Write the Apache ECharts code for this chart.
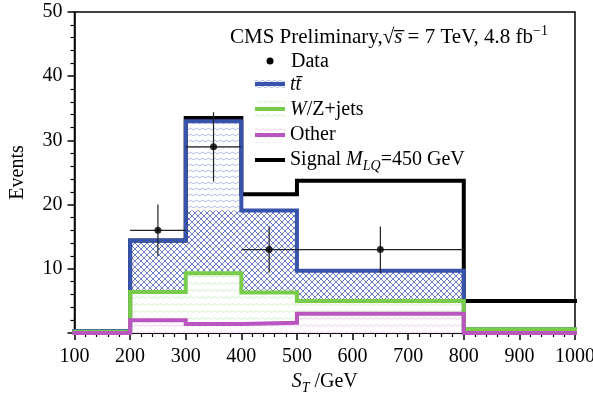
<!DOCTYPE html>
<html>
<head>
<meta charset="utf-8">
<script src="https://cdn.jsdelivr.net/npm/echarts@6/dist/echarts.min.js"></script>
<style>
html, body { margin: 0; padding: 0; background: #fff; }
#chart { width: 593px; height: 395px; }
</style>
</head>
<body>
<div id="chart"></div>
<script>
// Histogram bin edges in S_T (GeV)
const binEdges = [100, 200, 300, 400, 500, 800, 1000];
const xTicks = [100, 200, 300, 400, 500, 600, 700, 800, 900, 1000];
const yTicks = [10, 20, 30, 40, 50];

// Expected background yields per bin (stacked: Other, then W/Z+jets, then ttbar)
const otherYield  = [0.0, 2.0, 1.4, 1.6, 3.0, 0.0];
const wzJetsYield = [0.2, 4.4, 7.9, 4.7, 2.0, 0.6];
const ttbarYield  = [0.1, 8.0, 23.7, 12.8, 4.7, 0.0];

// Upper edge of the cross-hatched band per bin
const hatchBandTop = [0.3, 14.4, 19.1, 19.1, 9.7, 0.6];

// Signal (M_LQ = 450 GeV) stacked on top of the background
const signalTotal = [0.3, 14.4, 33.5, 21.6, 23.7, 5.0];

// Observed data: bin centre, count, vertical error, bin range
const dataX    = [250, 350, 450, 650];
const dataY    = [16, 29, 13, 13];
const dataErr  = [4.0, 5.4, 3.6, 3.6];
const dataXLo  = [200, 300, 400, 500];
const dataXHi  = [300, 400, 500, 800];

const FONT = 'Liberation Serif';
const BLUE = '#3853ac';
const GREEN = '#78cc4a';
const MAGENTA = '#b956bf';

// stacked totals
const otherTop = otherYield.slice();
const wzTop = otherYield.map((v, i) => v + wzJetsYield[i]);
const ttTop = wzTop.map((v, i) => v + ttbarYield[i]);

// step points: value of bin i starts at edge i, last edge repeats last bin
function steps(vals) {
  return binEdges.map((e, i) => [e, vals[Math.min(i, vals.length - 1)]]);
}

function pattern(w, h, draw) {
  const c = document.createElement('canvas');
  c.width = w; c.height = h;
  const g = c.getContext('2d');
  g.fillStyle = '#ffffff';
  g.fillRect(0, 0, w, h);
  draw(g);
  return { image: c, repeat: 'repeat' };
}

function wavy(color, w, h) {
  return pattern(w, h, g => {
    g.strokeStyle = color;
    g.lineWidth = 1;
    g.beginPath();
    const y = h / 2;
    g.moveTo(0, y);
    for (let x = 0; x <= w; x += 1) {
      g.lineTo(x, y + Math.sin(x / w * Math.PI * 4) * 0.8);
    }
    g.stroke();
  });
}

const crossHatch = pattern(6, 6, g => {
  g.strokeStyle = '#5a71c2';
  g.lineWidth = 0.9;
  g.beginPath();
  g.moveTo(0, 0); g.lineTo(6, 6);
  g.moveTo(6, 0); g.lineTo(0, 6);
  g.stroke();
});
const ttWave = wavy('#b3c0e6', 12, 6);
const wzWave = wavy('#d5f0c6', 12, 7);
const otherWave = wavy('#efd0f0', 12, 7);

function fillSeries(name, vals, fill) {
  return {
    name: name, type: 'line', step: 'end', data: steps(vals),
    symbol: 'none', silent: true,
    lineStyle: { width: 0, opacity: 0 },
    areaStyle: { color: fill, opacity: 1 }
  };
}
function lineSeries(name, vals, color) {
  return {
    name: name, type: 'line', step: 'end', data: steps(vals),
    symbol: 'none', silent: true,
    lineStyle: { width: 4, color: color, cap: 'square', join: 'miter' }
  };
}

const errorData = dataX.map((x, i) => [x, dataY[i], dataErr[i], dataXLo[i], dataXHi[i]]);

const chart = echarts.init(document.getElementById('chart'), null, { renderer: 'canvas' });

const TXT = '#000';
const baseText = { fontFamily: FONT, fontSize: 20, color: TXT, fontStyle: 'normal', fontWeight: 'normal' };
function tok(size, italic, extra) {
  return Object.assign({
    fontFamily: FONT, fontSize: size, fontStyle: italic ? 'italic' : 'normal', fontWeight: 'normal',
    fill: TXT, color: TXT, lineHeight: 26
  }, extra || {});
}
function richSet(size) {
  return {
    n: tok(size, false),
    i: tok(size, true),
    sub: tok(Math.round(size * 0.7), true, { lineHeight: 12, verticalAlign: 'bottom' }),
    sup: tok(Math.round(size * 0.68), false, { lineHeight: 12, verticalAlign: 'top' })
  };
}
const richBase = richSet(20);
const richTitle = richSet(21);

function legendText(x, y, text, rich) {
  return { type: 'text', x: x, y: y, style: { text: text, rich: rich || richBase, verticalAlign: 'middle', align: 'left', fontFamily: FONT, fontSize: 20, fontStyle: 'normal', fill: TXT } };
}
function legendIcon(y, fill, color) {
  return [
    { type: 'rect', shape: { x: 255, y: y - 8, width: 30, height: 16 }, style: { fill: fill } },
    { type: 'line', shape: { x1: 255, y1: y, x2: 285, y2: y }, style: { stroke: color, lineWidth: 4 } }
  ];
}

chart.setOption({
  animation: false,
  backgroundColor: '#ffffff',
  textStyle: { fontFamily: FONT },
  grid: { left: 74.5, right: 18, top: 12, bottom: 62, containLabel: false, outerBoundsMode: 'none',
    show: true, borderColor: '#000', borderWidth: 1.5, backgroundColor: 'transparent' },
  xAxis: {
    type: 'value', min: 100, max: 1000, interval: 100,
    name: '{i|S}{sub|T}{n| /GeV}', nameLocation: 'middle', nameGap: 33,
    nameTextStyle: { fontFamily: FONT, rich: richBase },
    axisLine: { show: true, onZero: false, lineStyle: { color: '#000', width: 1.5 } },
    axisTick: { show: true, inside: false, length: 7, lineStyle: { color: '#000', width: 1.5 } },
    minorTick: { show: true, splitNumber: 5, length: 4, lineStyle: { color: '#000', width: 1.2 } },
    axisLabel: Object.assign({ margin: 14, showMinLabel: true, showMaxLabel: true, hideOverlap: false,
      formatter: v => xTicks.indexOf(v) >= 0 ? String(v) : '' }, baseText),
    splitLine: { show: false }
  },
  yAxis: {
    type: 'value', min: 0, max: 50, interval: 10,
    name: 'Events', nameLocation: 'middle', nameGap: 47,
    nameTextStyle: baseText,
    axisLine: { show: true, onZero: false, lineStyle: { color: '#000', width: 1.5 } },
    axisTick: { show: true, inside: false, length: 7, lineStyle: { color: '#000', width: 1.5 } },
    minorTick: { show: true, splitNumber: 5, length: 4, lineStyle: { color: '#000', width: 1.2 } },
    axisLabel: Object.assign({ margin: 12, showMinLabel: false,
      formatter: v => yTicks.indexOf(v) >= 0 ? String(v) : '' }, baseText),
    splitLine: { show: false }
  },
  series: [
    fillSeries('ttbar fill', ttTop, ttWave),
    fillSeries('hatch band', hatchBandTop, crossHatch),
    fillSeries('W/Z+jets fill', wzTop, wzWave),
    fillSeries('Other fill', otherTop, otherWave),
    lineSeries('Signal', signalTotal, '#000000'),
    lineSeries('ttbar', ttTop, BLUE),
    lineSeries('W/Z+jets', wzTop, GREEN),
    lineSeries('Other', otherTop, MAGENTA),
    {
      name: 'Data errors', type: 'custom', silent: true,
      data: errorData, encode: { x: 0, y: 1 },
      renderItem: function (params, api) {
        const x = api.value(0), y = api.value(1), e = api.value(2);
        const lo = api.value(3), hi = api.value(4);
        const a = api.coord([lo, y]), b = api.coord([hi, y]);
        const t = api.coord([x, y + e]), d = api.coord([x, y - e]);
        const st = { stroke: '#222', lineWidth: 1.2 };
        return { type: 'group', children: [
          { type: 'line', shape: { x1: a[0], y1: a[1], x2: b[0], y2: b[1] }, style: st },
          { type: 'line', shape: { x1: t[0], y1: t[1], x2: d[0], y2: d[1] }, style: st }
        ] };
      },
      z: 5
    },
    {
      name: 'Data', type: 'scatter', silent: true,
      data: dataX.map((x, i) => [x, dataY[i]]),
      symbol: 'circle', symbolSize: 7,
      itemStyle: { color: '#000' }, z: 6
    }
  ],
  graphic: [
    legendText(230, 37, '{n|CMS Preliminary,}{n|√}{i|s\u0305}{n| = 7 TeV, 4.8 fb}{sup|−1}', richTitle),
    { type: 'circle', shape: { cx: 270, cy: 61, r: 3.5 }, style: { fill: '#000' } },
    legendText(291, 62, '{n|Data}'),
    ...legendIcon(84, ttWave, BLUE),
    legendText(290, 85, '{i|tt\u0304}'),
    ...legendIcon(109, wzWave, GREEN),
    legendText(290, 110, '{i|W}{n|/Z+jets}'),
    ...legendIcon(135, otherWave, MAGENTA),
    legendText(290, 135, '{n|Other}'),
    { type: 'line', shape: { x1: 255, y1: 160, x2: 285, y2: 160 }, style: { stroke: '#000', lineWidth: 4 } },
    legendText(290, 160, '{n|Signal }{i|M}{sub|LQ}{n|=450 GeV}')
  ]
});
</script>
</body>
</html>
